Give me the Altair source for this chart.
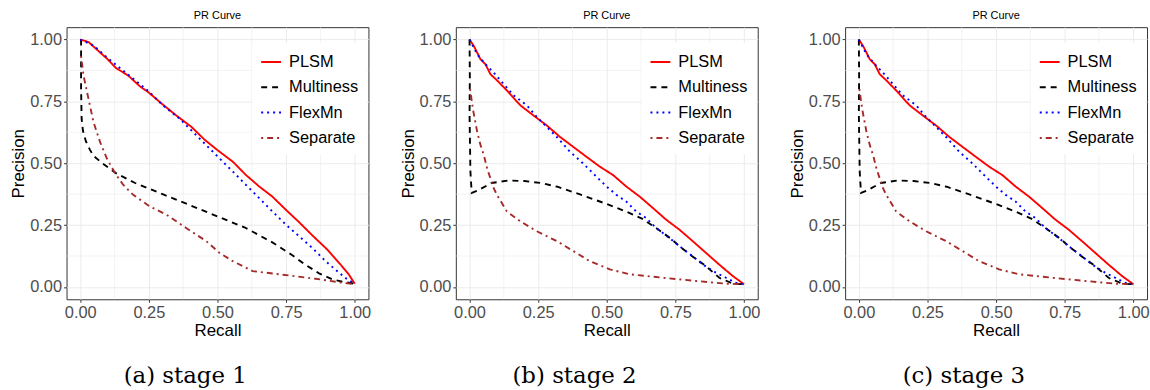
import altair as alt
import pandas as pd

methods = ["PLSM", "Multiness", "FlexMn", "Separate"]
colors = ["#ff0000", "#000000", "#0000ff", "#a52a2a"]
dashes = [[1, 0], [6, 5], [2, 4], [2, 4, 6, 4]]
captions = ["(a) stage 1", "(b) stage 2", "(c) stage 3"]
tick_values = [0, 0.25, 0.5, 0.75, 1.0]
minor_values = [0.125, 0.375, 0.625, 0.875]

# ---- stage 1 ----
r_plsm_1 = [0.0, 0.03, 0.06, 0.10, 0.13, 0.175, 0.217, 0.248, 0.302, 0.35, 0.405, 0.453, 0.50, 0.556, 0.604, 0.652, 0.70, 0.749, 0.797, 0.845, 0.90, 0.948, 0.978, 1.0]
p_plsm_1 = [1.0, 0.99, 0.96, 0.92, 0.885, 0.854, 0.811, 0.787, 0.736, 0.693, 0.647, 0.595, 0.553, 0.506, 0.452, 0.406, 0.365, 0.312, 0.262, 0.209, 0.151, 0.091, 0.051, 0.013]
r_mult_1 = [0.003, 0.003, 0.005, 0.01, 0.02, 0.035, 0.048, 0.08, 0.13, 0.20, 0.30, 0.40, 0.50, 0.60, 0.70, 0.77, 0.82, 0.87, 0.92, 0.96, 1.0]
p_mult_1 = [1.0, 0.80, 0.68, 0.63, 0.59, 0.555, 0.53, 0.50, 0.46, 0.42, 0.375, 0.33, 0.285, 0.24, 0.18, 0.13, 0.09, 0.055, 0.03, 0.02, 0.013]
r_flex_1 = [0.0, 0.05, 0.10, 0.15, 0.20, 0.25, 0.30, 0.362, 0.41, 0.459, 0.507, 0.556, 0.604, 0.652, 0.70, 0.749, 0.797, 0.845, 0.894, 0.942, 0.972, 1.0]
p_flex_1 = [1.0, 0.975, 0.925, 0.88, 0.835, 0.79, 0.735, 0.68, 0.627, 0.573, 0.52, 0.466, 0.412, 0.359, 0.305, 0.252, 0.205, 0.158, 0.104, 0.058, 0.031, 0.013]
r_sep_1 = [0.003, 0.012, 0.03, 0.048, 0.072, 0.097, 0.127, 0.157, 0.193, 0.254, 0.314, 0.386, 0.459, 0.507, 0.556, 0.628, 0.725, 0.857, 0.954, 1.0]
p_sep_1 = [0.934, 0.854, 0.76, 0.667, 0.586, 0.519, 0.459, 0.412, 0.372, 0.325, 0.292, 0.238, 0.185, 0.138, 0.104, 0.064, 0.051, 0.033, 0.017, 0.011]

# ---- stage 2 ----
r_plsm_2 = [0.0, 0.016, 0.04, 0.058, 0.076, 0.10, 0.136, 0.185, 0.233, 0.281, 0.33, 0.378, 0.426, 0.475, 0.523, 0.571, 0.62, 0.668, 0.716, 0.764, 0.813, 0.861, 0.909, 0.958, 1.0]
p_plsm_2 = [1.0, 0.973, 0.92, 0.90, 0.86, 0.835, 0.794, 0.734, 0.693, 0.653, 0.606, 0.566, 0.526, 0.486, 0.452, 0.406, 0.365, 0.319, 0.272, 0.232, 0.185, 0.138, 0.091, 0.045, 0.011]
r_mult_2 = [0.0, 0.001, 0.0, 0.002, 0.003, 0.005, 0.008, 0.03, 0.08, 0.14, 0.20, 0.26, 0.32, 0.40, 0.50, 0.57, 0.63, 0.68, 0.73, 0.77, 0.81, 0.86, 0.91, 0.96, 1.0]
p_mult_2 = [1.0, 0.85, 0.70, 0.55, 0.47, 0.43, 0.38, 0.39, 0.42, 0.43, 0.428, 0.42, 0.405, 0.375, 0.335, 0.305, 0.275, 0.238, 0.198, 0.16, 0.125, 0.085, 0.037, 0.013, 0.011]
r_flex_2 = [0.0, 0.028, 0.064, 0.088, 0.124, 0.161, 0.209, 0.245, 0.281, 0.318, 0.366, 0.414, 0.45, 0.499, 0.535, 0.571, 0.607, 0.644, 0.68, 0.728, 0.764, 0.813, 0.849, 0.897, 0.934, 0.97, 1.0]
p_flex_2 = [1.0, 0.94, 0.893, 0.866, 0.82, 0.774, 0.734, 0.687, 0.647, 0.606, 0.546, 0.499, 0.459, 0.406, 0.372, 0.345, 0.305, 0.278, 0.238, 0.198, 0.165, 0.124, 0.091, 0.058, 0.037, 0.017, 0.011]
r_sep_2 = [0.002, 0.012, 0.028, 0.04, 0.052, 0.064, 0.076, 0.088, 0.10, 0.136, 0.185, 0.245, 0.318, 0.378, 0.438, 0.511, 0.583, 0.704, 0.825, 0.934, 1.0]
p_sep_2 = [0.80, 0.72, 0.626, 0.573, 0.533, 0.479, 0.439, 0.399, 0.372, 0.305, 0.265, 0.225, 0.185, 0.145, 0.104, 0.071, 0.051, 0.037, 0.024, 0.013, 0.011]

# ---- stage 3 ----
r_plsm_3 = [0.0, 0.016, 0.04, 0.058, 0.076, 0.10, 0.136, 0.185, 0.233, 0.281, 0.33, 0.378, 0.426, 0.475, 0.523, 0.571, 0.62, 0.668, 0.716, 0.764, 0.813, 0.861, 0.909, 0.958, 1.0]
p_plsm_3 = [1.0, 0.973, 0.92, 0.90, 0.86, 0.835, 0.794, 0.734, 0.693, 0.653, 0.606, 0.566, 0.526, 0.486, 0.452, 0.406, 0.365, 0.319, 0.272, 0.232, 0.185, 0.138, 0.091, 0.045, 0.011]
r_mult_3 = [0.0, 0.001, 0.0, 0.002, 0.003, 0.005, 0.008, 0.03, 0.08, 0.14, 0.20, 0.26, 0.32, 0.40, 0.50, 0.57, 0.63, 0.68, 0.73, 0.77, 0.81, 0.86, 0.91, 0.96, 1.0]
p_mult_3 = [1.0, 0.85, 0.70, 0.55, 0.47, 0.43, 0.38, 0.39, 0.42, 0.43, 0.428, 0.42, 0.405, 0.375, 0.335, 0.305, 0.275, 0.238, 0.198, 0.16, 0.125, 0.085, 0.037, 0.013, 0.011]
r_flex_3 = [0.0, 0.028, 0.064, 0.088, 0.124, 0.161, 0.209, 0.245, 0.281, 0.318, 0.366, 0.414, 0.45, 0.499, 0.535, 0.571, 0.607, 0.644, 0.68, 0.728, 0.764, 0.813, 0.849, 0.897, 0.934, 0.97, 1.0]
p_flex_3 = [1.0, 0.94, 0.893, 0.866, 0.82, 0.774, 0.734, 0.687, 0.647, 0.606, 0.546, 0.499, 0.459, 0.406, 0.372, 0.345, 0.305, 0.278, 0.238, 0.198, 0.165, 0.124, 0.091, 0.058, 0.037, 0.017, 0.011]
r_sep_3 = [0.002, 0.012, 0.028, 0.04, 0.052, 0.064, 0.076, 0.088, 0.10, 0.136, 0.185, 0.245, 0.318, 0.378, 0.438, 0.511, 0.583, 0.704, 0.825, 0.934, 1.0]
p_sep_3 = [0.80, 0.72, 0.626, 0.573, 0.533, 0.479, 0.439, 0.399, 0.372, 0.305, 0.265, 0.225, 0.185, 0.145, 0.104, 0.071, 0.051, 0.037, 0.024, 0.013, 0.011]

stages = [
    [(r_plsm_1, p_plsm_1), (r_mult_1, p_mult_1), (r_flex_1, p_flex_1), (r_sep_1, p_sep_1)],
    [(r_plsm_2, p_plsm_2), (r_mult_2, p_mult_2), (r_flex_2, p_flex_2), (r_sep_2, p_sep_2)],
    [(r_plsm_3, p_plsm_3), (r_mult_3, p_mult_3), (r_flex_3, p_flex_3), (r_sep_3, p_sep_3)],
]

FONT = "Liberation Sans"
W, H = 304, 274


def make_panel(series, caption):
    rows = []
    for m, (rr, pp) in zip(methods, series):
        for i, (r, p) in enumerate(zip(rr, pp)):
            rows.append({"recall": r, "precision": p, "method": m, "idx": i})
    df = pd.DataFrame(rows)

    xscale = alt.Scale(domain=[-0.05, 1.05], nice=False, zero=False)
    yscale = alt.Scale(domain=[-0.05, 1.05], nice=False, zero=False)
    xaxis = alt.Axis(values=tick_values, format=".2f", title="Recall")
    yaxis = alt.Axis(values=tick_values, format=".2f", title="Precision")

    leg = alt.Legend(
        orient="none", legendX=187, legendY=16, title=None,
        fillColor="white", padding=8, labelFont=FONT, labelFontSize=16.5,
        labelColor="black", symbolType="stroke", symbolSize=400,
        symbolStrokeWidth=2, labelOffset=7, rowPadding=5.5,
    )

    minor_df = pd.DataFrame({"v": minor_values})
    vgrid = alt.Chart(minor_df).mark_rule(color="#ebebeb", strokeWidth=0.6).encode(
        x=alt.X("v:Q", scale=xscale, axis=xaxis))
    hgrid = alt.Chart(minor_df).mark_rule(color="#ebebeb", strokeWidth=0.6).encode(
        y=alt.Y("v:Q", scale=yscale, axis=yaxis))

    lines = alt.Chart(df).mark_line(strokeWidth=1.9, clip=True).encode(
        x=alt.X("recall:Q", scale=xscale, axis=xaxis),
        y=alt.Y("precision:Q", scale=yscale, axis=yaxis),
        color=alt.Color("method:N", scale=alt.Scale(domain=methods, range=colors), legend=leg),
        strokeDash=alt.StrokeDash("method:N", scale=alt.Scale(domain=methods, range=dashes), legend=leg),
        order="idx:Q",
    )

    cap = alt.Chart(pd.DataFrame({"c": [caption]})).mark_text(
        font="DejaVu Serif", fontSize=23, color="black", align="center", baseline="alphabetic"
    ).encode(text="c:N", x=alt.value(119.5), y=alt.value(358))

    return alt.layer(vgrid, hgrid, lines, cap).properties(
        width=W, height=H,
        title=alt.TitleParams("PR Curve", font=FONT, fontSize=11, fontWeight="normal",
                              color="black", anchor="middle", frame="group", offset=6),
    )


panels = [make_panel(s, c) for s, c in zip(stages, captions)]

chart = alt.hconcat(*panels, spacing=27).resolve_legend(
    color="independent", strokeDash="independent"
).properties(
    padding={"left": 9, "top": 8, "right": 0, "bottom": 0},
    background="white",
).configure_view(
    stroke="#333333", strokeWidth=1, fill="white"
).configure_axis(
    domain=False, tickColor="#333333", tickSize=3, tickWidth=1,
    labelColor="#4d4d4d", labelFont=FONT, labelFontSize=16.5,
    titleFont=FONT, titleFontSize=17, titleFontWeight="normal", titleColor="black",
    gridColor="#ebebeb", gridWidth=1,
).configure_axisX(
    labelPadding=2, titlePadding=2,
).configure_axisY(
    labelPadding=2, titlePadding=2,
)

chart.save("out.html", embed_options={"renderer": "svg", "actions": False})
